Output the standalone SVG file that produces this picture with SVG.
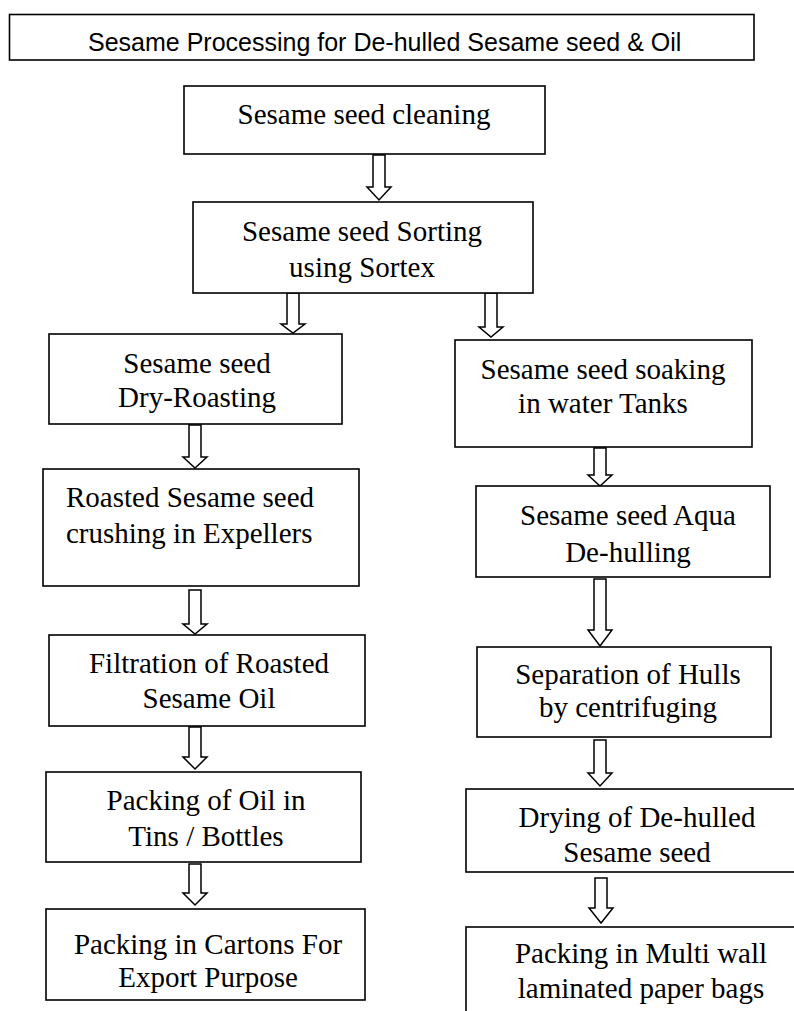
<svg xmlns="http://www.w3.org/2000/svg" width="794" height="1011" viewBox="0 0 794 1011">
<style>
.box{fill:#fff;stroke:#000;stroke-width:1.6}
.t{font-family:"Liberation Serif","Times New Roman",serif;font-size:29px;fill:#000;text-anchor:middle}
.tl{font-family:"Liberation Serif","Times New Roman",serif;font-size:29px;fill:#000}
.title{font-family:"Liberation Sans",Arial,sans-serif;font-size:25px;fill:#000}
.arr{fill:#fff;stroke:#000;stroke-width:1.5;stroke-linejoin:miter}
</style>
<rect width="794" height="1011" fill="#fff"/>
<g id="title">
<rect class="box" x="9.5" y="14.5" width="744.5" height="45.5"/>
<text class="title" x="88" y="51">Sesame Processing for De-hulled Sesame seed &amp; Oil</text>
</g>
<g id="connectors">
<path class="arr" d="M373 155 V187 H367 L379 200 L391 187 H385 V155 Z"/>
<path class="arr" d="M287 293 V324 H281 L293 333 L305 324 H299 V293 Z"/>
<path class="arr" d="M485 293 V327 H479 L491 337 L503 327 H497 V293 Z"/>
<path class="arr" d="M189 425 V457 H183 L195 468 L207 457 H201 V425 Z"/>
<path class="arr" d="M594 448 V475 H588 L600 486 L612 475 H606 V448 Z"/>
<path class="arr" d="M189 590 V624 H183 L195 634 L207 624 H201 V590 Z"/>
<path class="arr" d="M594 579 V630 H588 L600 646 L612 630 H606 V579 Z"/>
<path class="arr" d="M189 727 V757 H183 L195 769 L207 757 H201 V727 Z"/>
<path class="arr" d="M594 740 V773 H588 L600 786 L612 773 H606 V740 Z"/>
<path class="arr" d="M189 864 V893 H183 L195 905 L207 893 H201 V864 Z"/>
<path class="arr" d="M595 878 V908 H589 L601 923 L613 908 H607 V878 Z"/>
</g>
<g id="cleaning">
<rect class="box" x="184" y="86" width="361" height="68"/>
<text class="t" x="364" y="124">Sesame seed cleaning</text>
</g>
<g id="sorting">
<rect class="box" x="193" y="202" width="340" height="91"/>
<text class="t" x="362" y="241">Sesame seed Sorting</text>
<text class="t" x="362" y="277">using Sortex</text>
</g>
<g id="roasting">
<rect class="box" x="49" y="334" width="293" height="90"/>
<text class="t" x="197" y="373">Sesame seed</text>
<text class="t" x="197" y="407">Dry-Roasting</text>
</g>
<g id="soaking">
<rect class="box" x="455" y="340" width="297" height="107"/>
<text class="t" x="603" y="379">Sesame seed soaking</text>
<text class="t" x="603" y="413">in water Tanks</text>
</g>
<g id="crushing">
<rect class="box" x="43" y="469" width="316" height="117"/>
<text class="tl" x="66" y="507">Roasted Sesame seed</text>
<text class="tl" x="66" y="543">crushing in Expellers</text>
</g>
<g id="dehulling">
<rect class="box" x="476" y="486" width="294" height="91"/>
<text class="t" x="628" y="525">Sesame seed Aqua</text>
<text class="t" x="628" y="562">De-hulling</text>
</g>
<g id="filtration">
<rect class="box" x="49" y="635" width="316" height="91"/>
<text class="t" x="209" y="673">Filtration of Roasted</text>
<text class="t" x="209" y="708">Sesame Oil</text>
</g>
<g id="separation">
<rect class="box" x="477" y="647" width="294" height="90"/>
<text class="t" x="628" y="684">Separation of Hulls</text>
<text class="t" x="628" y="717">by centrifuging</text>
</g>
<g id="packing-oil">
<rect class="box" x="46" y="772" width="315" height="90"/>
<text class="t" x="206" y="810">Packing of Oil in</text>
<text class="t" x="206" y="846">Tins / Bottles</text>
</g>
<g id="drying">
<rect class="box" x="466" y="789" width="340" height="83"/>
<text class="t" x="637" y="827">Drying of De-hulled</text>
<text class="t" x="637" y="862">Sesame seed</text>
</g>
<g id="cartons">
<rect class="box" x="46" y="909" width="319" height="91"/>
<text class="t" x="208" y="954">Packing in Cartons For</text>
<text class="t" x="208" y="987">Export Purpose</text>
</g>
<g id="bags">
<rect class="box" x="466" y="927" width="340" height="100"/>
<text class="t" x="641" y="963">Packing in Multi wall</text>
<text class="t" x="641" y="998">laminated paper bags</text>
</g>
</svg>
